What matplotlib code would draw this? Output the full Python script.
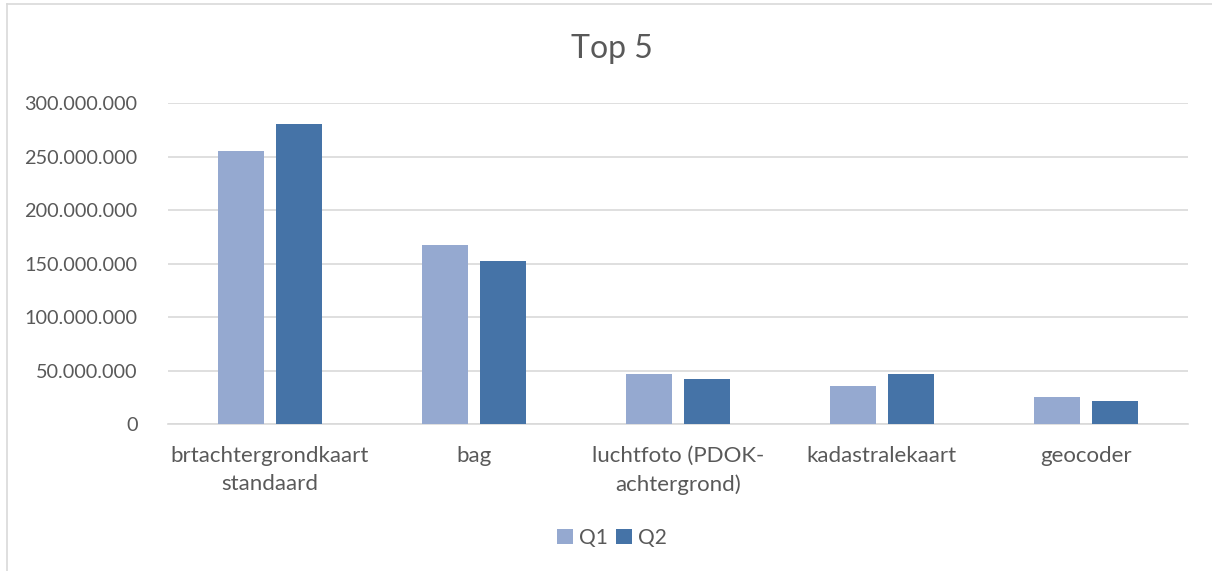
import numpy as np
import matplotlib.pyplot as plt
from matplotlib.ticker import FuncFormatter
from matplotlib.lines import Line2D

# Data
categories = ["brtachtergrondkaart\nstandaard", "bag", "luchtfoto (PDOK-\nachtergrond)",
              "kadastralekaart", "geocoder"]
q1 = [255_800_000, 167_600_000, 47_000_000, 35_500_000, 25_200_000]
q2 = [280_400_000, 152_300_000, 42_000_000, 46_700_000, 21_200_000]
y_ticks = [0, 50_000_000, 100_000_000, 150_000_000, 200_000_000, 250_000_000, 300_000_000]

plt.rcParams['font.family'] = ['Lato', 'DejaVu Sans']
text_col = '#595959'
grid_col = '#d9d9d9'

fig = plt.figure(figsize=(12.12, 5.71), dpi=100, facecolor='white')
ax = fig.add_axes([0.1386, 0.2574, 0.8414, 0.5616])

x = np.arange(len(categories))
w = 0.225
off = 0.142
ax.bar(x - off, q1, width=w, color='#95A9D0', label='Q1', zorder=3)
ax.bar(x + off, q2, width=w, color='#4573A7', label='Q2', zorder=3)

ax.set_xlim(-0.5, len(categories) - 0.5)
ax.set_ylim(0, 300_000_000)
ax.set_yticks(y_ticks)
ax.yaxis.set_major_formatter(FuncFormatter(lambda v, p: f"{int(v):,}".replace(",", ".")))
ax.set_xticks(x)
ax.set_xticklabels(categories, linespacing=1.5)

ax.grid(axis='y', color=grid_col, linewidth=1.2, zorder=0)
for s in ['top', 'right', 'left']:
    ax.spines[s].set_visible(False)
ax.spines['bottom'].set_color(grid_col)
ax.spines['bottom'].set_linewidth(1.2)
ax.tick_params(axis='x', length=0, labelsize=16, colors=text_col, pad=16)
ax.tick_params(axis='y', length=0, labelsize=14.3, colors=text_col, pad=22)

fig.text(0.505, 0.915, "Top 5", ha='center', va='center', fontsize=23, color=text_col)

ax.legend(loc='center', bbox_to_anchor=(0.505, 0.058), bbox_transform=fig.transFigure,
          ncol=2, frameon=False, fontsize=15, labelcolor=text_col,
          handlelength=0.75, handleheight=0.75, handletextpad=0.3, columnspacing=0.4)

# light chart-area border (left and top edges)
fig.add_artist(Line2D([7 / 1212, 7 / 1212], [0, 1 - 4 / 571], color=grid_col, linewidth=1.2))
fig.add_artist(Line2D([7 / 1212, 1], [1 - 4 / 571, 1 - 4 / 571], color=grid_col, linewidth=1.2))

fig.savefig('out.png', dpi=100, facecolor='white')
